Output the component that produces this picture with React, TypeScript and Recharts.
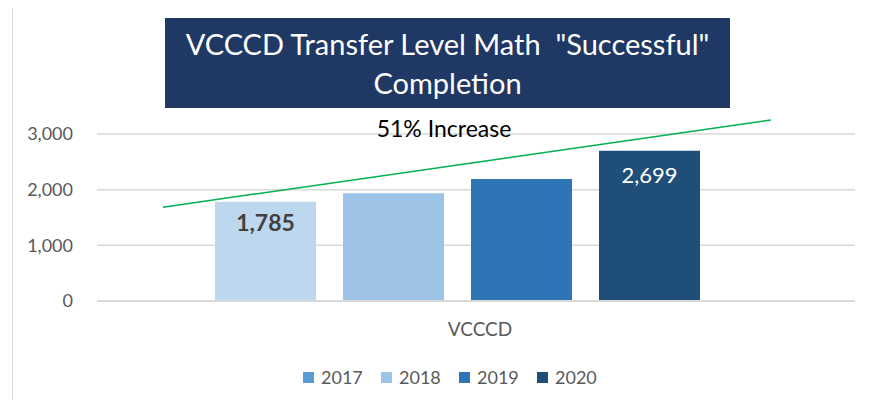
import React from 'react';
import { BarChart, Bar, XAxis, YAxis, CartesianGrid, LabelList, ReferenceLine, ScatterChart } from 'recharts';

const categories = ['VCCCD'];
const years = ['2017', '2018', '2019', '2020'];
const values = [1785, 1935, 2190, 2699];
const barColors = ['#BDD7EE', '#9DC3E6', '#2E75B6', '#1F4E79'];
const legendColors = ['#5B9BD5', '#9DC3E6', '#2E75B6', '#1F4E79'];
const yTicks = [0, 1000, 2000, 3000];
// trend arrow drawn over the bars, in (fraction of plot width, value) units
const trendX = [0.087, 0.889];
const trendY = [1685, 3250];

const data = categories.map((name) => {
  const row: Record<string, string | number> = { name };
  years.forEach((y, i) => {
    row['y' + y] = values[i];
  });
  return row;
});

const font = 'Lato, "Open Sans", sans-serif';
const W = 869;
const H = 408;

export default function App() {
  return (
    <div style={{ position: 'relative', width: W, height: H, margin: -8, overflow: 'hidden', background: '#fff', fontFamily: font }}>
      <div style={{ position: 'absolute', left: 12, top: 3, width: 900, height: 500, border: '1.5px solid #d9d9d9' }} />
      <div style={{ position: 'absolute', left: 0, top: 0 }}>
        <BarChart
          width={W}
          height={H}
          data={data}
          margin={{ top: 134, right: 14, bottom: 77, left: 0 }}
          barSize={101}
          barGap={27}
        >
          <CartesianGrid vertical={false} stroke="#d9d9d9" strokeWidth={1.5} />
          <XAxis
            dataKey="name"
            height={30}
            axisLine={{ stroke: '#d9d9d9', strokeWidth: 2 }}
            tickLine={false}
            tickSize={0}
            tickMargin={22}
            padding={{ left: 0, right: 38 }}
            tick={{ fill: '#595959', fontSize: 19, fontFamily: font, dx: 23 }}
          />
          <YAxis
            width={97}
            domain={[0, 3000]}
            ticks={yTicks}
            axisLine={false}
            tickLine={false}
            tickSize={0}
            tickMargin={24}
            tickFormatter={(v: number) => v.toLocaleString('en-US')}
            tick={{ fill: '#595959', fontSize: 18, fontFamily: font }}
          />
          {years.map((y, i) => (
            <Bar key={y} dataKey={'y' + y} name={y} fill={barColors[i]} isAnimationActive={false}>
              {i === 0 && (
                <LabelList
                  dataKey={'y' + y}
                  position="insideTop"
                  offset={13}
                  formatter={(v: number) => v.toLocaleString('en-US')}
                  style={{ fill: '#404040', fontSize: 23, fontWeight: 700, fontFamily: font }}
                />
              )}
              {i === 3 && (
                <LabelList
                  dataKey={'y' + y}
                  position="insideTop"
                  offset={17}
                  formatter={(v: number) => v.toLocaleString('en-US')}
                  style={{ fill: '#ffffff', fontSize: 22, fontFamily: font }}
                />
              )}
            </Bar>
          ))}
        </BarChart>
      </div>
      {/* overlay with numeric axes for the trend line, same plot area as the bars */}
      <div style={{ position: 'absolute', left: 0, top: 0, pointerEvents: 'none' }}>
        <ScatterChart width={W} height={H} margin={{ top: 134, right: 14, bottom: 107, left: 97 }}>
          <XAxis type="number" dataKey="x" domain={[0, 1]} allowDataOverflow hide />
          <YAxis type="number" dataKey="y" domain={[0, 3000]} allowDataOverflow hide />
          <ReferenceLine
            segment={[
              { x: trendX[0], y: trendY[0] },
              { x: trendX[1], y: trendY[1] },
            ]}
            stroke="#00B050"
            strokeWidth={1.5}
            ifOverflow="visible"
          />
        </ScatterChart>
      </div>
      <div
        style={{
          position: 'absolute',
          left: 165,
          top: 18,
          width: 565,
          height: 90,
          background: '#203864',
          color: '#fff',
          fontSize: 29,
          lineHeight: '39px',
          textAlign: 'center',
          paddingTop: 6,
          boxSizing: 'border-box',
          whiteSpace: 'pre',
        }}
      >
        {'VCCCD Transfer Level Math  "Successful"\nCompletion'}
      </div>
      <div style={{ position: 'absolute', left: 344, width: 200, top: 114, textAlign: 'center', fontSize: 23, color: '#000' }}>
        51% Increase
      </div>
      <div style={{ position: 'absolute', left: 303, top: 366, display: 'flex' }}>
        {years.map((y, i) => (
          <div key={y} style={{ display: 'flex', alignItems: 'center', width: 78 }}>
            <span style={{ width: 11, height: 11, background: legendColors[i], marginRight: 7, display: 'inline-block' }} />
            <span style={{ fontSize: 18, color: '#595959' }}>{y}</span>
          </div>
        ))}
      </div>
    </div>
  );
}
